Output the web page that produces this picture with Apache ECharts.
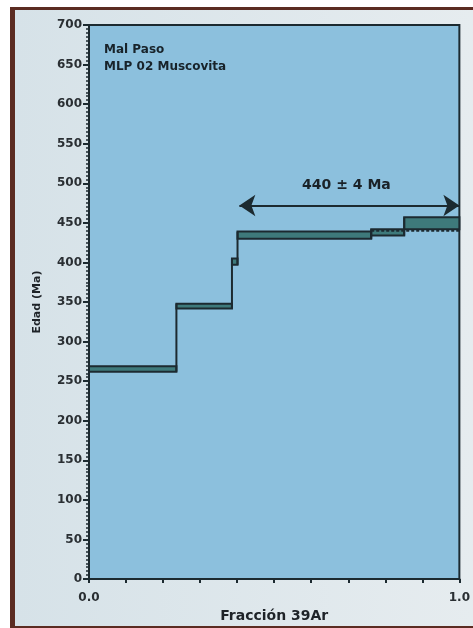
<!DOCTYPE html>
<html>
<head>
<meta charset="utf-8">
<script src="https://cdn.jsdelivr.net/npm/echarts@6/dist/echarts.min.js"></script>
<style>html,body{margin:0;padding:0;background:#fff;}#c{width:473px;height:628px;}</style>
</head>
<body>
<div id="c"></div>
<script>
// Step data (fraction of 39Ar released, apparent age range in Ma)
const stepX0 = [0.000, 0.236, 0.386, 0.401, 0.762, 0.851];
const stepX1 = [0.236, 0.386, 0.401, 0.762, 0.851, 1.000];
const ageLo  = [262, 342, 397, 430, 434, 442];
const ageHi  = [269, 348, 405, 439, 442, 457];
// Plateau
const plateauAge = 440;
const plateauX = [0.762, 1.0];
const arrowX = [0.406, 1.0];
const arrowY = 472;
const plateauLabel = '440 ± 4 Ma';
const labelPos = [0.695, 497];
const sampleLines = ['Mal Paso', 'MLP 02 Muscovita'];
const yTicks = [0, 700, 50];

const FONT = '"DejaVu Sans", Verdana, sans-serif';
const chart = echarts.init(document.getElementById('c'), null, {renderer: 'canvas'});
const dark = '#1c2a30';
const boxData = stepX0.map((x0, i) => [x0, stepX1[i], ageLo[i], ageHi[i], i > 0 ? ageHi[i - 1] : ageLo[i], i > 0 ? ageLo[i - 1] : ageLo[i]]);

const option = {
  animation: false,
  backgroundColor: 'transparent',
  graphic: [
    {type: 'rect', z: -10, shape: {x: 10, y: 7, width: 463, height: 621}, style: {fill: '#5b2c22'}},
    {type: 'rect', z: -9, shape: {x: 15, y: 10, width: 458, height: 616},
      style: {fill: {type: 'linear', x: 0, y: 0, x2: 1, y2: 0, colorStops: [{offset: 0, color: '#d6e2e8'}, {offset: 1, color: '#e6ecef'}]}}}
  ],
  title: {
    text: sampleLines.join('\n'),
    left: 99, top: 36,
    textStyle: {fontFamily: FONT, fontSize: 12, fontWeight: 'bold', color: '#18232a', lineHeight: 17}
  },
  grid: {left: 89, right: 12, top: 25, bottom: 48, show: true, backgroundColor: '#8cc0dd', borderColor: dark, borderWidth: 2},
  xAxis: {
    type: 'value', min: 0, max: 1, interval: 0.1,
    name: 'Fracción 39Ar', nameLocation: 'middle', nameGap: 21,
    nameTextStyle: {fontFamily: FONT, fontSize: 14, fontWeight: 'bold', color: '#1e2328'},
    axisLine: {show: true, lineStyle: {color: dark, width: 2}},
    axisTick: {show: true, length: 4, lineStyle: {color: dark, width: 2}},
    axisLabel: {
      margin: 13, fontFamily: FONT, fontSize: 12, fontWeight: 'bold', color: '#2a2f33',
      formatter: v => (Math.abs(v) < 1e-9 ? '0.0' : (Math.abs(v - 1) < 1e-9 ? '1.0' : ''))
    },
    splitLine: {show: false}
  },
  yAxis: {
    type: 'value', min: yTicks[0], max: yTicks[1], interval: yTicks[2],
    name: 'Edad (Ma)', nameLocation: 'middle', nameGap: 46, nameRotate: 90,
    nameTextStyle: {fontFamily: FONT, fontSize: 11, fontWeight: 'bold', color: '#1e2328'},
    axisLine: {show: true, lineStyle: {color: dark, width: 2}},
    axisTick: {show: true, length: 6, lineStyle: {color: dark, width: 2}},
    minorTick: {show: true, splitNumber: 10, length: 3, lineStyle: {color: dark, width: 1.5}},
    axisLabel: {margin: 7, fontFamily: FONT, fontSize: 12, fontWeight: 'bold', color: '#2a2f33'},
    splitLine: {show: false}
  },
  series: [
    {
      type: 'custom', z: 5,
      data: boxData,
      encode: {x: [0, 1], y: [2, 3]},
      renderItem: function (params, api) {
        const p0 = api.coord([api.value(0), api.value(3)]);
        const p1 = api.coord([api.value(1), api.value(2)]);
        const children = [{
          type: 'rect',
          shape: {x: p0[0], y: p0[1], width: p1[0] - p0[0], height: p1[1] - p0[1]},
          style: {fill: '#3e7a7b', stroke: dark, lineWidth: 2}
        }];
        if (params.dataIndex > 0) {
          const prevHi = api.value(4), prevLo = api.value(5);
          const lo = api.value(2), hi = api.value(3);
          const a = api.coord([api.value(0), Math.min(prevLo, lo)]);
          const b = api.coord([api.value(0), Math.max(prevHi, hi)]);
          children.push({type: 'line', shape: {x1: a[0], y1: a[1], x2: b[0], y2: b[1]}, style: {stroke: dark, lineWidth: 2}});
        }
        return {type: 'group', children: children};
      }
    },
    {
      type: 'line', z: 6, symbol: 'none',
      data: [[plateauX[0], plateauAge], [plateauX[1], plateauAge]],
      lineStyle: {color: dark, width: 2, type: [3, 2]}
    },
    {
      type: 'lines', coordinateSystem: 'cartesian2d', z: 6,
      symbol: ['arrow', 'arrow'], symbolSize: [16, 16],
      data: [{coords: [[arrowX[0], arrowY], [arrowX[1], arrowY]]}],
      lineStyle: {color: dark, width: 2, opacity: 1}
    },
    {
      type: 'custom', z: 7,
      data: [[labelPos[0], labelPos[1]]],
      renderItem: function (params, api) {
        const p = api.coord([api.value(0), api.value(1)]);
        return {type: 'text', x: p[0], y: p[1],
          style: {text: plateauLabel, fill: '#1a2228', font: 'bold 14px ' + FONT, align: 'center', verticalAlign: 'middle'}};
      }
    }
  ]
};
chart.setOption(option);
</script>
</body>
</html>
